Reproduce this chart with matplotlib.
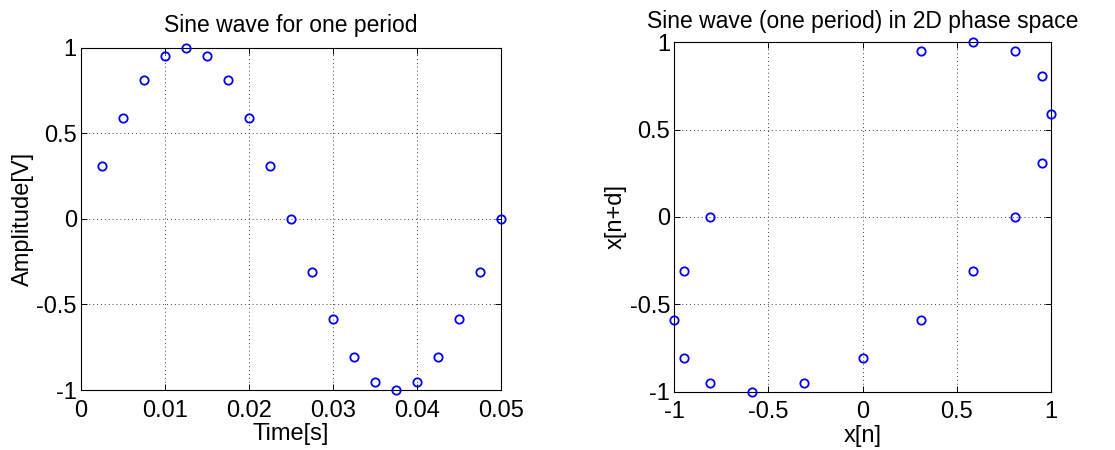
import matplotlib
matplotlib.use("Agg")
import matplotlib.pyplot as plt

plt.rcParams["font.family"] = ["Liberation Sans", "DejaVu Sans"]

# left panel: one period of the sampled sine
time_s = [0.0025, 0.005, 0.0075, 0.01, 0.0125, 0.015, 0.0175, 0.02, 0.0225, 0.025,
          0.0275, 0.03, 0.0325, 0.035, 0.0375, 0.04, 0.0425, 0.045, 0.0475, 0.05]
amp_v = [0.309, 0.588, 0.809, 0.951, 1.0, 0.951, 0.809, 0.588, 0.309, 0.0,
         -0.309, -0.588, -0.809, -0.951, -1.0, -0.951, -0.809, -0.588, -0.309, 0.0]

# right panel: delay embedding x[n] vs x[n+d]
x_n = [0.309, 0.588, 0.809, 0.951, 1.0, 0.951, 0.809, 0.588, 0.309, 0.0,
       -0.309, -0.588, -0.809, -0.951, -1.0, -0.951, -0.809]
x_nd = [0.951, 1.0, 0.951, 0.809, 0.588, 0.309, 0.0, -0.309, -0.588, -0.809,
        -0.951, -1.0, -0.951, -0.809, -0.588, -0.309, 0.0]

fig = plt.figure(figsize=(11.15, 4.5), dpi=100)
ax1 = fig.add_axes([0.0726, 0.1333, 0.3764, 0.7607])
ax2 = fig.add_axes([0.6048, 0.1296, 0.3376, 0.7764])

mk = dict(linestyle="none", marker="o", markersize=6, markerfacecolor="none",
          markeredgecolor="#0000ff", markeredgewidth=1.3, clip_on=False, zorder=5)


def style(ax):
    ax.grid(True, color="#404040", linestyle=(0, (1, 3)), linewidth=0.7)
    ax.tick_params(direction="in", length=4, width=0.7, labelsize=17,
                   top=True, right=True)
    ax.tick_params(axis="x", pad=7)
    ax.tick_params(axis="y", pad=3)
    for s in ax.spines.values():
        s.set_linewidth(0.8)


ax1.plot(time_s, amp_v, **mk)
ax1.set_xlim(0, 0.05)
ax1.set_ylim(-1, 1)
ax1.set_xticks([0, 0.01, 0.02, 0.03, 0.04, 0.05])
ax1.set_xticklabels(["0", "0.01", "0.02", "0.03", "0.04", "0.05"])
ax1.set_yticks([-1, -0.5, 0, 0.5, 1])
ax1.set_yticklabels(["-1", "-0.5", "0", "0.5", "1"])
ax1.set_xlabel("Time[s]", fontsize=17, labelpad=1)
ax1.set_ylabel("Amplitude[V]", fontsize=17, labelpad=2)
ax1.set_title("Sine wave for one period", fontsize=16.5, pad=11)
style(ax1)

ax2.plot(x_n, x_nd, **mk)
ax2.set_xlim(-1, 1)
ax2.set_ylim(-1, 1)
ax2.set_xticks([-1, -0.5, 0, 0.5, 1])
ax2.set_xticklabels(["-1", "-0.5", "0", "0.5", "1"])
ax2.set_yticks([-1, -0.5, 0, 0.5, 1])
ax2.set_yticklabels(["-1", "-0.5", "0", "0.5", "1"])
ax2.set_xlabel("x[n]", fontsize=17, labelpad=1)
ax2.set_ylabel("x[n+d]", fontsize=17, labelpad=2)
ax2.set_title("Sine wave (one period) in 2D phase space", fontsize=16.5, pad=10)
style(ax2)

fig.savefig("out.png", dpi=100)
